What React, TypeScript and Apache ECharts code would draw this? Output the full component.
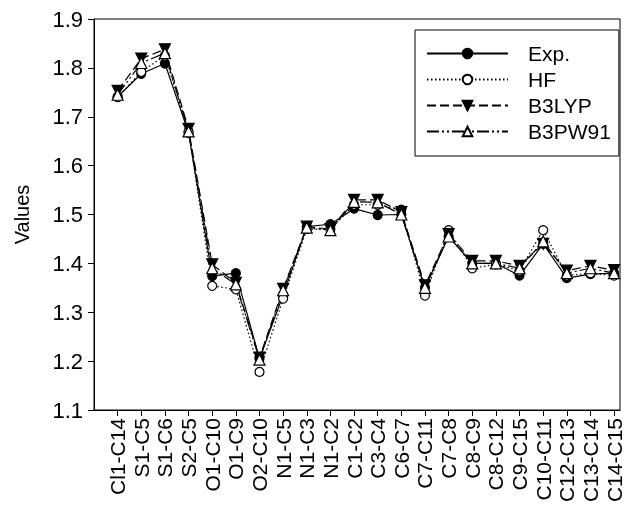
import React, { useEffect, useRef } from "react";
import * as echarts from "echarts";

const categories = [
  "Cl1-C14", "S1-C5", "S1-C6", "S2-C5", "O1-C10", "O1-C9", "O2-C10", "N1-C5",
  "N1-C3", "N1-C2", "C1-C2", "C3-C4", "C6-C7", "C7-C11", "C7-C8", "C8-C9",
  "C8-C12", "C9-C15", "C10-C11", "C12-C13", "C13-C14", "C14-C15",
];
const expValues = [1.741, 1.788, 1.809, 1.667, 1.374, 1.380, 1.205, 1.335, 1.475, 1.480, 1.512, 1.499, 1.500, 1.350, 1.455, 1.400, 1.400, 1.375, 1.440, 1.370, 1.378, 1.380];
const hfValues = [1.740, 1.792, 1.825, 1.670, 1.354, 1.347, 1.178, 1.328, 1.470, 1.470, 1.520, 1.520, 1.510, 1.334, 1.468, 1.390, 1.398, 1.385, 1.468, 1.375, 1.380, 1.375];
const b3lypValues = [1.753, 1.819, 1.838, 1.675, 1.398, 1.360, 1.207, 1.348, 1.475, 1.470, 1.530, 1.530, 1.505, 1.355, 1.460, 1.405, 1.405, 1.395, 1.440, 1.385, 1.395, 1.386];
const b3pw91Values = [1.745, 1.810, 1.830, 1.670, 1.390, 1.357, 1.203, 1.345, 1.473, 1.468, 1.526, 1.525, 1.500, 1.350, 1.455, 1.400, 1.400, 1.390, 1.445, 1.380, 1.390, 1.380];
const yTicks = [1.1, 1.2, 1.3, 1.4, 1.5, 1.6, 1.7, 1.8, 1.9];

const FONT = 'Arial, "Liberation Sans", sans-serif';

export default function App() {
  const ref = useRef<HTMLDivElement>(null);
  useEffect(() => {
    if (!ref.current) return;
    const chart = echarts.init(ref.current, undefined, { renderer: "svg" });
    const idx = categories.map((_, i) => i);
    const toData = (arr: number[]) => arr.map((v, i) => [i, v]);
    const mk = (name: string, arr: number[], type: any, symbol: string, size: number, fill: string, rotate = 0) => ({
      name,
      type: "line",
      data: toData(arr),
      symbol,
      symbolSize: size,
      symbolRotate: rotate,
      showSymbol: true,
      lineStyle: { color: "#000", width: 1.2, type },
      itemStyle: { color: fill, borderColor: "#000", borderWidth: 1.2 },
      emphasis: { disabled: true },
    });
    chart.setOption({
      animation: false,
      textStyle: { fontFamily: FONT },
      grid: { left: 94, right: 9, top: 19, bottom: 105, show: true, borderColor: "#000", borderWidth: 1, backgroundColor: "transparent" },
      legend: {
        orient: "vertical",
        left: 415,
        top: 30,
        padding: [13, 8, 14, 11],
        backgroundColor: "#fff",
        borderColor: "#000",
        borderWidth: 1,
        itemWidth: 81,
        itemHeight: 12,
        itemGap: 5,
        textStyle: { fontSize: 21, color: "#000", fontFamily: FONT, padding: [0, 0, 0, 15] },
        data: ["Exp.", "HF", "B3LYP", "B3PW91"],
      },
      xAxis: {
        type: "value",
        min: -1,
        max: 21.25,
        splitLine: { show: false },
        axisLine: { onZero: false, lineStyle: { color: "#000", width: 1 } },
        axisTick: { show: true, customValues: idx, length: 6, lineStyle: { color: "#000" } },
        axisLabel: {
          customValues: idx,
          rotate: 90,
          margin: 8,
          fontSize: 21,
          color: "#000",
          fontFamily: FONT,
          formatter: (v: number) => categories[Math.round(v)] ?? "",
        },
      },
      yAxis: {
        type: "value",
        min: 1.1,
        max: 1.9,
        interval: 0.1,
        name: "Values",
        nameLocation: "middle",
        nameGap: 62,
        nameRotate: 90,
        nameTextStyle: { fontSize: 20, color: "#000", fontFamily: FONT },
        splitLine: { show: false },
        axisLine: { show: true, onZero: false, lineStyle: { color: "#000", width: 1 } },
        axisTick: { show: true, length: 6, lineStyle: { color: "#000" } },
        axisLabel: {
          fontSize: 22,
          color: "#000",
          fontFamily: FONT,
          margin: 11,
          formatter: (v: number) => {
            const t = yTicks.find((x) => Math.abs(x - v) < 1e-6);
            return (t ?? v).toFixed(1);
          },
        },
      },
      series: [
        mk("Exp.", expValues, "solid", "circle", 9, "#000"),
        mk("HF", hfValues, [1.5, 2.5], "circle", 9, "#fff"),
        mk("B3LYP", b3lypValues, [9, 4], "triangle", 11, "#000", 180),
        mk("B3PW91", b3pw91Values, [12, 3, 2, 3, 2, 3], "triangle", 11, "#fff"),
      ],
    });
    return () => chart.dispose();
  }, []);
  return <div ref={ref} style={{ position: "fixed", left: 0, top: 0, width: 629, height: 515 }} />;
}
